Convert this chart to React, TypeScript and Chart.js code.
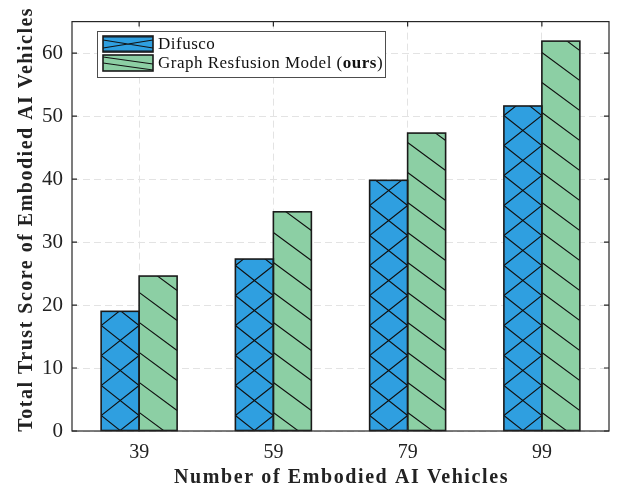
import React, { useEffect, useRef } from "react";
import { Chart, registerables } from "chart.js";
Chart.register(...registerables);

const categories = ["39", "59", "79", "99"];
const difusco = [19.0, 27.3, 39.8, 51.6];
const ours = [24.6, 34.8, 47.3, 61.9];
const yTicks = [0, 10, 20, 30, 40, 50, 60];
const seriesNames = ["Difusco", "Graph Resfusion Model (ours)"];
const xTitle = "Number of Embodied AI Vehicles";
const yTitle = "Total Trust Score of Embodied AI Vehicles";

const FONT = "'Liberation Serif', 'DejaVu Serif', serif";
const BLUE = "#2f9fe0";
const GREEN = "#8ccfa4";
const INK = "#1a1a1a";

function hatchRect(ctx: CanvasRenderingContext2D, kind: number, xL: number, yT: number, w: number, h: number, step: number) {
  const xR = xL + w;
  const base = yT + h;
  ctx.save();
  ctx.beginPath();
  ctx.rect(xL, yT, w, h);
  ctx.clip();
  ctx.strokeStyle = "#111";
  ctx.lineWidth = 1.1;
  ctx.beginPath();
  const half = step / 2;
  for (let k = -2; k * step < h + 3 * step; k++) {
    if (kind === 0) {
      const yc = base - step * k;
      ctx.moveTo(xL, yc + half);
      ctx.lineTo(xR, yc - half);
      ctx.moveTo(xL, yc - half);
      ctx.lineTo(xR, yc + half);
    } else {
      const yl = base - 18 - step * k;
      ctx.moveTo(xL, yl);
      ctx.lineTo(xR, yl + 28);
    }
  }
  ctx.stroke();
  ctx.restore();
}

const hatchPlugin = {
  id: "hatch",
  afterDatasetsDraw(chart: any) {
    const ctx = chart.ctx;
    chart.data.datasets.forEach((_ds: any, di: number) => {
      const meta = chart.getDatasetMeta(di);
      meta.data.forEach((bar: any) => {
        const { x, y, base, width } = bar.getProps(["x", "y", "base", "width"], true);
        const xL = x - width / 2;
        hatchRect(ctx, di, xL, y, width, base - y, 30);
        ctx.save();
        ctx.strokeStyle = INK;
        ctx.lineWidth = 1.6;
        ctx.strokeRect(xL, y, width, base - y);
        ctx.restore();
      });
    });
  },
};

const framePlugin = {
  id: "frame",
  afterDraw(chart: any) {
    const ctx = chart.ctx as any;
    const a = chart.chartArea;
    const ys = chart.scales.y;
    const xs = chart.scales.x;
    ctx.save();
    ctx.strokeStyle = "#262626";
    ctx.lineWidth = 1.2;
    ctx.strokeRect(a.left, a.top, a.right - a.left, a.bottom - a.top);
    ctx.beginPath();
    const L = 5;
    yTicks.forEach((v) => {
      const py = ys.getPixelForValue(v);
      ctx.moveTo(a.left, py);
      ctx.lineTo(a.left + L, py);
      ctx.moveTo(a.right, py);
      ctx.lineTo(a.right - L, py);
    });
    categories.forEach((_c, i) => {
      const px = xs.getPixelForValue(i);
      ctx.moveTo(px, a.top);
      ctx.lineTo(px, a.top + L);
      ctx.moveTo(px, a.bottom);
      ctx.lineTo(px, a.bottom - L);
    });
    ctx.stroke();

    // axis titles
    ctx.fillStyle = "#222";
    ctx.font = `bold 20px ${FONT}`;
    ctx.letterSpacing = "1.6px";
    ctx.textAlign = "center";
    ctx.textBaseline = "alphabetic";
    ctx.fillText(xTitle, (a.left + a.right) / 2 + 1, 483);
    ctx.save();
    ctx.translate(32, (a.top + a.bottom) / 2 - 7);
    ctx.rotate(-Math.PI / 2);
    ctx.letterSpacing = "1.5px";
    ctx.fillText(yTitle, 0, 0);
    ctx.restore();
    ctx.letterSpacing = "0px";

    // legend
    const bx = 97, by = 31, bw = 288, bh = 46;
    ctx.fillStyle = "#fff";
    ctx.fillRect(bx, by, bw, bh);
    ctx.strokeStyle = "#4d4d4d";
    ctx.lineWidth = 1;
    ctx.strokeRect(bx + 0.5, by + 0.5, bw, bh);
    const rows = [36, 55];
    rows.forEach((ry, i) => {
      const sx = 103, sw = 50, sh = 16;
      ctx.fillStyle = i === 0 ? BLUE : GREEN;
      ctx.fillRect(sx, ry, sw, sh);
      ctx.save();
      ctx.beginPath();
      ctx.rect(sx, ry, sw, sh);
      ctx.clip();
      ctx.strokeStyle = "#111";
      ctx.lineWidth = 1.1;
      ctx.beginPath();
      if (i === 0) {
        ctx.moveTo(sx, ry + 4); ctx.lineTo(sx + sw, ry + sh - 4);
        ctx.moveTo(sx, ry + sh - 4); ctx.lineTo(sx + sw, ry + 4);
        ctx.moveTo(sx, ry + 1); ctx.lineTo(sx + sw, ry + 1);
        ctx.moveTo(sx, ry + sh - 1); ctx.lineTo(sx + sw, ry + sh - 1);
      } else {
        ctx.moveTo(sx, ry + 2); ctx.lineTo(sx + sw, ry + 9);
        ctx.moveTo(sx, ry + 8); ctx.lineTo(sx + sw, ry + 15);
      }
      ctx.stroke();
      ctx.restore();
      ctx.strokeStyle = INK;
      ctx.lineWidth = 1.6;
      ctx.strokeRect(sx, ry, sw, sh);
      ctx.fillStyle = "#111";
      ctx.textBaseline = "middle";
      ctx.textAlign = "left";
      ctx.letterSpacing = "0.5px";
      const ty = ry + sh / 2 + 1;
      let tx = 158;
      if (i === 0) {
        ctx.font = `17px ${FONT}`;
        ctx.fillText(seriesNames[0], tx, ty);
      } else {
        const name = seriesNames[1];
        const p0 = name.slice(0, name.indexOf("(") + 1);
        const p1 = "ours";
        const p2 = ")";
        ctx.font = `17px ${FONT}`;
        ctx.fillText(p0, tx, ty);
        tx += ctx.measureText(p0).width;
        ctx.font = `bold 17px ${FONT}`;
        ctx.fillText(p1, tx, ty);
        tx += ctx.measureText(p1).width;
        ctx.font = `17px ${FONT}`;
        ctx.fillText(p2, tx, ty);
      }
      ctx.letterSpacing = "0px";
    });
    ctx.restore();
  },
};

export default function App() {
  const ref = useRef<HTMLCanvasElement>(null);
  useEffect(() => {
    const canvas = ref.current;
    if (!canvas) return;
    const grid = {
      color: "#e3e3e3",
      lineWidth: 1,
      drawTicks: false,
    };
    const chart = new Chart(canvas, {
      type: "bar",
      data: {
        labels: categories,
        datasets: [
          { label: seriesNames[0], data: difusco, backgroundColor: BLUE, borderWidth: 0 },
          { label: seriesNames[1], data: ours, backgroundColor: GREEN, borderWidth: 0 },
        ],
      },
      options: {
        animation: false,
        responsive: true,
        maintainAspectRatio: false,
        layout: { padding: { left: 0, right: 16, top: 6, bottom: 0 } },
        datasets: { bar: { barPercentage: 1, categoryPercentage: 0.566 } },
        plugins: { legend: { display: false }, tooltip: { enabled: false } },
        scales: {
          x: {
            grid: { ...grid, offset: false },
            border: { display: false, dash: [7, 4] },
            ticks: { color: "#222", font: { family: FONT, size: 20 }, padding: 10 },
            title: { display: false },
            afterFit: (s: any) => { s.height = 56; },
          },
          y: {
            min: 0,
            max: 65,
            grid: { ...grid },
            border: { display: false, dash: [7, 4] },
            afterBuildTicks: (s: any) => { s.ticks = yTicks.map((v) => ({ value: v })); },
            ticks: { color: "#222", font: { family: FONT, size: 21 }, padding: 9 },
            title: { display: false },
            afterFit: (s: any) => { s.width = 72; },
          },
        },
      } as any,
      plugins: [hatchPlugin, framePlugin],
    });
    return () => chart.destroy();
  }, []);
  return (
    <div style={{ position: "fixed", left: 0, top: 0, width: 625, height: 487, background: "#fff" }}>
      <canvas ref={ref} />
    </div>
  );
}
